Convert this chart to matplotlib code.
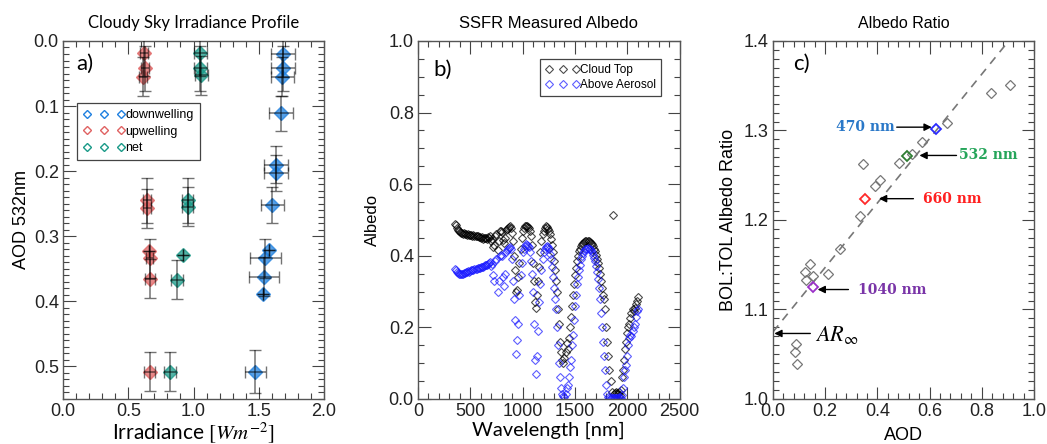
import matplotlib
matplotlib.use("Agg")
import matplotlib.pyplot as plt
from matplotlib.lines import Line2D
from matplotlib.ticker import MultipleLocator, FormatStrFormatter

plt.rcParams["mathtext.fontset"] = "stix"

HELV = "Liberation Sans"
CALIB = "Lato"

# ---- panel a: irradiance profile -------------------------------------------
down_irr = [1.684, 1.684, 1.680, 1.670, 1.630, 1.630, 1.605, 1.580, 1.550, 1.540, 1.530, 1.472]
down_aod = [0.020, 0.042, 0.055, 0.111, 0.190, 0.203, 0.252, 0.321, 0.334, 0.362, 0.388, 0.508]
down_xerr = [0.09, 0.09, 0.09, 0.09, 0.09, 0.09, 0.09, 0.0, 0.12, 0.115, 0.0, 0.08]
down_yerr = [0.035, 0.035, 0.030, 0.027, 0.028, 0.028, 0.028, 0.0, 0.030, 0.030, 0.0, 0.033]

up_irr = [0.620, 0.630, 0.610, 0.643, 0.645, 0.660, 0.663, 0.665, 0.663]
up_aod = [0.019, 0.042, 0.055, 0.245, 0.257, 0.322, 0.334, 0.365, 0.508]
up_xerr = [0.03, 0.03, 0.03, 0.03, 0.03, 0.0, 0.03, 0.04, 0.045]
up_yerr = [0.035, 0.035, 0.030, 0.035, 0.030, 0.0, 0.030, 0.030, 0.030]

net_irr = [1.051, 1.051, 1.060, 0.954, 0.954, 0.918, 0.872, 0.821]
net_aod = [0.019, 0.042, 0.053, 0.245, 0.255, 0.329, 0.367, 0.508]
net_xerr = [0.05, 0.05, 0.05, 0.04, 0.04, 0.0, 0.045, 0.045]
net_yerr = [0.035, 0.035, 0.030, 0.035, 0.030, 0.0, 0.030, 0.030]

# ---- panel b: SSFR albedo spectra ------------------------------------------
wavelength = [
    350, 360, 370, 380, 390, 400, 410, 420, 430, 440, 450, 460, 470, 480, 490,
    500, 510, 520, 530, 540, 550, 560, 570, 580, 590, 600, 610, 620, 630, 640,
    650, 660, 670, 680, 690, 700, 710, 720, 730, 740, 750, 760, 770, 780, 790,
    800, 810, 820, 830, 840, 850, 860, 870, 880, 890, 900, 910, 920, 930, 940,
    950, 960, 970, 980, 990, 1000, 1010, 1020, 1030, 1040, 1050, 1060, 1070, 1080, 1090,
    1100, 1110, 1120, 1130, 1140, 1150, 1160, 1170, 1180, 1190, 1200, 1210, 1220, 1230, 1240,
    1250, 1260, 1270, 1280, 1290, 1300, 1310, 1320, 1330, 1340, 1350, 1360, 1370, 1380, 1390,
    1400, 1410, 1420, 1430, 1440, 1450, 1460, 1470, 1480, 1490, 1500, 1510, 1520, 1530, 1540,
    1550, 1560, 1570, 1580, 1590, 1600, 1610, 1620, 1630, 1640, 1650, 1660, 1670, 1680, 1690,
    1700, 1710, 1720, 1730, 1740, 1750, 1760, 1770, 1780, 1790, 1800, 1810, 1820, 1830, 1840,
    1850, 1860, 1870, 1880, 1890, 1900, 1910, 1920, 1930, 1940, 1950, 1960, 1970, 1980, 1990,
    2000, 2010, 2020, 2030, 2040, 2050, 2060, 2070, 2080, 2090, 2100,
]
albedo_cloud_top = [
    0.490, 0.485, 0.478, 0.472, 0.468, 0.466, 0.465, 0.463, 0.462, 0.463, 0.461, 0.460, 0.459, 0.460, 0.458,
    0.457, 0.458, 0.456, 0.457, 0.455, 0.456, 0.454, 0.455, 0.453, 0.452, 0.450, 0.452, 0.448, 0.450, 0.451,
    0.449, 0.447, 0.452, 0.450, 0.455, 0.440, 0.448, 0.425, 0.430, 0.455, 0.462, 0.415, 0.440, 0.468, 0.470,
    0.466, 0.445, 0.435, 0.450, 0.472, 0.475, 0.478, 0.480, 0.482, 0.478, 0.465, 0.440, 0.400, 0.360, 0.300,
    0.305, 0.340, 0.380, 0.420, 0.450, 0.470, 0.478, 0.482, 0.484, 0.483, 0.480, 0.478, 0.470, 0.455, 0.430,
    0.380, 0.330, 0.270, 0.255, 0.290, 0.330, 0.370, 0.410, 0.440, 0.460, 0.470, 0.478, 0.482, 0.480, 0.476,
    0.470, 0.460, 0.448, 0.430, 0.410, 0.385, 0.360, 0.330, 0.300, 0.250, 0.210, 0.160, 0.130, 0.110, 0.100,
    0.115, 0.130, 0.155, 0.140, 0.170, 0.200, 0.230, 0.260, 0.290, 0.320, 0.345, 0.365, 0.385, 0.400, 0.412,
    0.420, 0.428, 0.433, 0.436, 0.438, 0.440, 0.441, 0.441, 0.440, 0.438, 0.436, 0.432, 0.427, 0.420, 0.412,
    0.403, 0.392, 0.380, 0.365, 0.350, 0.330, 0.310, 0.290, 0.280, 0.250, 0.200, 0.160, 0.120, 0.080, 0.050,
    0.020, 0.514, 0.015, 0.018, 0.020, 0.018, 0.015, 0.020, 0.012, 0.025, 0.060, 0.080, 0.110, 0.140, 0.160,
    0.185, 0.200, 0.210, 0.225, 0.240, 0.250, 0.245, 0.255, 0.265, 0.275, 0.285,
]
albedo_above_aerosol = [
    0.362, 0.360, 0.356, 0.352, 0.350, 0.349, 0.348, 0.350, 0.349, 0.351, 0.352, 0.354, 0.355, 0.357, 0.356,
    0.358, 0.359, 0.360, 0.361, 0.362, 0.364, 0.363, 0.365, 0.366, 0.366, 0.368, 0.368, 0.370, 0.371, 0.373,
    0.374, 0.375, 0.378, 0.379, 0.383, 0.372, 0.376, 0.345, 0.330, 0.385, 0.392, 0.298, 0.330, 0.400, 0.402,
    0.398, 0.340, 0.315, 0.350, 0.410, 0.415, 0.420, 0.422, 0.424, 0.418, 0.390, 0.330, 0.280, 0.220, 0.125,
    0.165, 0.210, 0.290, 0.345, 0.380, 0.410, 0.420, 0.428, 0.432, 0.430, 0.428, 0.425, 0.410, 0.385, 0.350,
    0.300, 0.210, 0.110, 0.070, 0.120, 0.190, 0.270, 0.320, 0.360, 0.390, 0.410, 0.420, 0.425, 0.428, 0.424,
    0.418, 0.405, 0.390, 0.370, 0.340, 0.310, 0.280, 0.250, 0.200, 0.150, 0.100, 0.060, 0.030, 0.015, 0.008,
    0.005, 0.015, 0.030, 0.040, 0.060, 0.090, 0.110, 0.150, 0.180, 0.220, 0.260, 0.290, 0.320, 0.340, 0.360,
    0.375, 0.390, 0.400, 0.408, 0.413, 0.418, 0.420, 0.421, 0.420, 0.418, 0.415, 0.410, 0.403, 0.395, 0.385,
    0.372, 0.355, 0.335, 0.310, 0.280, 0.240, 0.200, 0.160, 0.120, 0.080, 0.040, 0.015, 0.005, 0.002, 0.004,
    0.003, 0.002, 0.003, 0.002, 0.004, 0.002, 0.003, 0.005, 0.004, 0.003, 0.010, 0.030, 0.060, 0.080, 0.095,
    0.120, 0.150, 0.170, 0.180, 0.175, 0.190, 0.200, 0.210, 0.230, 0.245, 0.250,
]

# ---- panel c: albedo ratio vs AOD ------------------------------------------
aod_ratio = [0.907, 0.837, 0.665, 0.569, 0.534, 0.483, 0.344, 0.411, 0.390, 0.335,
             0.255, 0.210, 0.143, 0.124, 0.127, 0.153, 0.089, 0.085, 0.092]
albedo_ratio = [1.351, 1.342, 1.308, 1.287, 1.274, 1.264, 1.262, 1.245, 1.238, 1.204,
                1.168, 1.140, 1.151, 1.142, 1.133, 1.137, 1.061, 1.052, 1.039]
band_labels = ["470 nm", "532 nm", "660 nm", "1040 nm"]
band_aod = [0.624, 0.515, 0.353, 0.153]
band_ratio = [1.302, 1.272, 1.223, 1.125]
band_colors = ["#2a2aff", "#2e7d32", "#ff2a2a", "#9b30c8"]
band_text_colors = ["#2a78c8", "#25a55a", "#ff2020", "#7a35a8"]
fit_intercept = 1.075
fit_slope = 0.36

DOWN_C = "#1f80e0"
UP_C = "#e06262"
NET_C = "#1a9a88"


def idl_axes(ax, xmaj, xmin, ymaj, ymin, xfmt, yfmt):
    ax.xaxis.set_major_locator(MultipleLocator(xmaj))
    ax.xaxis.set_minor_locator(MultipleLocator(xmin))
    ax.yaxis.set_major_locator(MultipleLocator(ymaj))
    ax.yaxis.set_minor_locator(MultipleLocator(ymin))
    ax.xaxis.set_major_formatter(FormatStrFormatter(xfmt))
    ax.yaxis.set_major_formatter(FormatStrFormatter(yfmt))
    ax.tick_params(which="both", direction="in", top=True, right=True,
                   color="#444444", width=0.8, labelsize=13, labelcolor="#222222")
    ax.tick_params(which="major", length=9, pad=3)
    ax.tick_params(which="minor", length=4.5)
    for lab in ax.get_xticklabels() + ax.get_yticklabels():
        lab.set_family(HELV)
    for s in ax.spines.values():
        s.set_color("#555555")
        s.set_linewidth(1.0)


fig = plt.figure(figsize=(10.47, 4.44), dpi=100)

# ---------------- a) ----------------
ax1 = fig.add_axes([0.0602, 0.1014, 0.2493, 0.8063])
for irr, aod, xe, ye, c in [(down_irr, down_aod, down_xerr, down_yerr, DOWN_C),
                            (up_irr, up_aod, up_xerr, up_yerr, UP_C),
                            (net_irr, net_aod, net_xerr, net_yerr, NET_C)]:
    ax1.plot(irr, aod, linestyle="none", marker="D", ms=7.5, color=c, mec=c,
             alpha=0.75, zorder=2)
    ax1.errorbar(irr, aod, xerr=xe, yerr=ye, fmt="none", ecolor="black",
                 elinewidth=1.1, capsize=4, capthick=1.0, alpha=0.55, zorder=3)
ax1.set_xlim(0, 2.0)
ax1.set_ylim(0.55, 0.0)
idl_axes(ax1, 0.5, 0.1, 0.1, 0.01, "%.1f", "%.1f")
ax1.set_title("Cloudy Sky Irradiance Profile", family=CALIB, fontsize=12, pad=9)
ax1.set_ylabel("AOD 532nm", family=HELV, fontsize=13, labelpad=3)
ax1.set_xlabel(r"Irradiance $[Wm^{-2}]$", family=CALIB, fontsize=15, labelpad=0)
ax1.text(0.05, 0.937, "a)", transform=ax1.transAxes, family=CALIB, fontsize=16,
         va="center", ha="left")
handles = [Line2D([], [], linestyle="none", marker="D", ms=4.5, mfc="none",
                  mec=c, mew=1.0) for c in (DOWN_C, UP_C, NET_C)]
leg = ax1.legend(handles, ["downwelling", "upwelling", "net"], numpoints=3,
                 loc="upper left", bbox_to_anchor=(0.054, 0.827),
                 borderaxespad=0, prop={"family": HELV, "size": 9},
                 handlelength=3.3, handletextpad=0.05, borderpad=0.5,
                 labelspacing=0.35, fancybox=False, framealpha=1,
                 edgecolor="#444444")
leg.get_frame().set_linewidth(0.9)

# ---------------- b) ----------------
ax2 = fig.add_axes([0.3992, 0.1014, 0.2499, 0.8063])
ax2.plot(wavelength, albedo_cloud_top, linestyle="none", marker="D", ms=4.5,
         mfc="none", mec="black", mew=0.8, alpha=0.7, label="Cloud Top")
ax2.plot(wavelength, albedo_above_aerosol, linestyle="none", marker="D", ms=4.5,
         mfc="none", mec="#1a1aff", mew=0.8, alpha=0.7, label="Above Aerosol")
ax2.set_xlim(0, 2500)
ax2.set_ylim(0, 1.0)
idl_axes(ax2, 500, 100, 0.2, 0.05, "%d", "%.1f")
ax2.set_title("SSFR Measured Albedo", family=HELV, fontsize=12, pad=9)
ax2.set_ylabel("Albedo", family=HELV, fontsize=12, labelpad=6)
ax2.set_xlabel("Wavelength [nm]", family=CALIB, fontsize=14.5, labelpad=1)
ax2.text(0.058, 0.92, "b)", transform=ax2.transAxes, family=CALIB, fontsize=16,
         va="center", ha="left")
leg2 = ax2.legend(numpoints=3, loc="upper right", bbox_to_anchor=(0.93, 0.95),
                  borderaxespad=0, prop={"family": HELV, "size": 8.5},
                  handlelength=2.9, handletextpad=0.0, borderpad=0.45,
                  labelspacing=0.25, fancybox=False, framealpha=1,
                  edgecolor="#444444")
leg2.get_frame().set_linewidth(0.9)

# ---------------- c) ----------------
ax3 = fig.add_axes([0.7383, 0.1014, 0.2493, 0.8063])
ax3.axline((0, fit_intercept), slope=fit_slope, color="#777777", lw=1.2,
           dashes=(5, 4))
ax3.plot(aod_ratio, albedo_ratio, linestyle="none", marker="D", ms=5,
         mfc="none", mec="#777777", mew=0.9)
for a, r, c in zip(band_aod, band_ratio, band_colors):
    ax3.plot([a], [r], linestyle="none", marker="D", ms=5, mfc="none", mec=c,
             mew=1.3)
ax3.set_xlim(0, 1.0)
ax3.set_ylim(1.0, 1.4)
idl_axes(ax3, 0.2, 0.04, 0.1, 0.01, "%.1f", "%.1f")
ax3.set_title("Albedo Ratio", family=HELV, fontsize=11.5, pad=9)
ax3.set_ylabel("BOL:TOL Albedo Ratio", family=HELV, fontsize=13, labelpad=5)
ax3.set_xlabel("AOD", family=HELV, fontsize=13, labelpad=5)
ax3.text(0.077, 0.937, "c)", transform=ax3.transAxes, family=CALIB, fontsize=16,
         va="center", ha="left")

arrow = dict(arrowstyle="-|>", color="black", lw=1.0, shrinkA=0, shrinkB=0,
             mutation_scale=11)
# (tail x, tip x, y, text x, text ha)
arrow_specs = [(0.474, 0.608, 1.3037, 0.4675, "right"),
               (0.703, 0.561, 1.2721, 0.713, "left"),
               (0.538, 0.406, 1.2238, 0.573, "left"),
               (0.289, 0.171, 1.1223, 0.325, "left")]
for (tail, tip, yy, tx, ha), lab, tc in zip(arrow_specs, band_labels, band_text_colors):
    ax3.annotate("", xy=(tip, yy), xytext=(tail, yy), arrowprops=arrow)
    ax3.text(tx, yy, lab, color=tc, ha=ha, va="center", family="DejaVu Serif",
             fontweight="bold", fontsize=10)
ax3.annotate("", xy=(0.005, 1.0732), xytext=(0.143, 1.0732), arrowprops=arrow)
ax3.text(0.162, 1.0712, r"$AR_{\infty}$", ha="left", va="center", fontsize=16)

fig.savefig("out.png", dpi=100)
